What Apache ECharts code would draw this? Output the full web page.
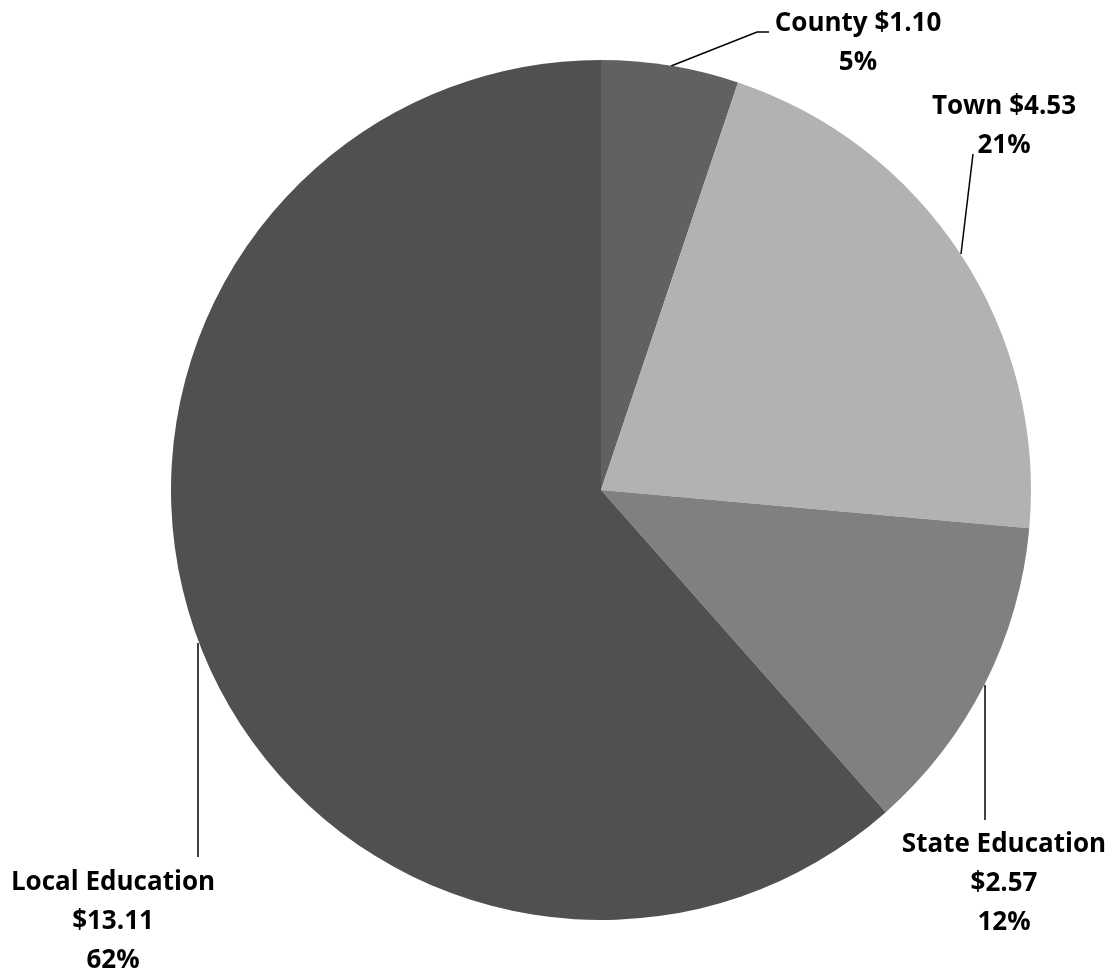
<!DOCTYPE html>
<html>
<head>
<meta charset="utf-8">
<script src="https://cdn.jsdelivr.net/npm/echarts@6/dist/echarts.min.js"></script>
<style>
html,body{margin:0;padding:0;background:#fff;}
#chart{width:1117px;height:972px;}
</style>
</head>
<body>
<div id="chart"></div>
<script>
const categories = ['County', 'Town', 'State Education', 'Local Education'];
const values = [1.10, 4.53, 2.57, 13.11];
const colors = ['#616161', '#b2b2b2', '#808080', '#505050'];

// label placement (layout only)
const labelPos = [
  {x: 858, y: 4, line: [[671, 66], [757, 32], [769, 32]]},
  {x: 1004, y: 87, line: [[961, 254], [973, 154]]},
  {x: 1004, y: 825, line: [[985, 685], [985, 820]]},
  {x: 113, y: 863, line: [[198, 643], [198, 857]]}
];

const chart = echarts.init(document.getElementById('chart'));
chart.setOption({
  animation: false,
  series: [{
    type: 'pie',
    center: [601, 490],
    radius: [0, 430],
    startAngle: 90,
    clockwise: true,
    percentPrecision: 0,
    data: categories.map((c, i) => ({name: c, value: values[i], itemStyle: {color: colors[i]}})),
    label: {
      show: true,
      position: 'outside',
      overflow: 'none',
      bleedMargin: 0,
      edgeDistance: 0,
      fontFamily: 'Open Sans',
      fontWeight: 'bold',
      fontSize: 26,
      lineHeight: 39,
      color: '#000',
      align: 'center',
      formatter: function (p) {
        const v = '$' + p.value.toFixed(2);
        const pct = Math.round(p.percent) + '%';
        if (p.name.indexOf('Education') >= 0) return p.name + '\n' + v + '\n' + pct;
        return p.name + ' ' + v + '\n' + pct;
      }
    },
    labelLine: {
      show: true,
      lineStyle: {color: '#000', width: 1.5}
    },
    labelLayout: function (params) {
      const lp = labelPos[params.dataIndex];
      return {
        x: lp.x,
        y: lp.y,
        align: 'center',
        verticalAlign: 'top',
        labelLinePoints: lp.line
      };
    }
  }]
});
</script>
</body>
</html>
